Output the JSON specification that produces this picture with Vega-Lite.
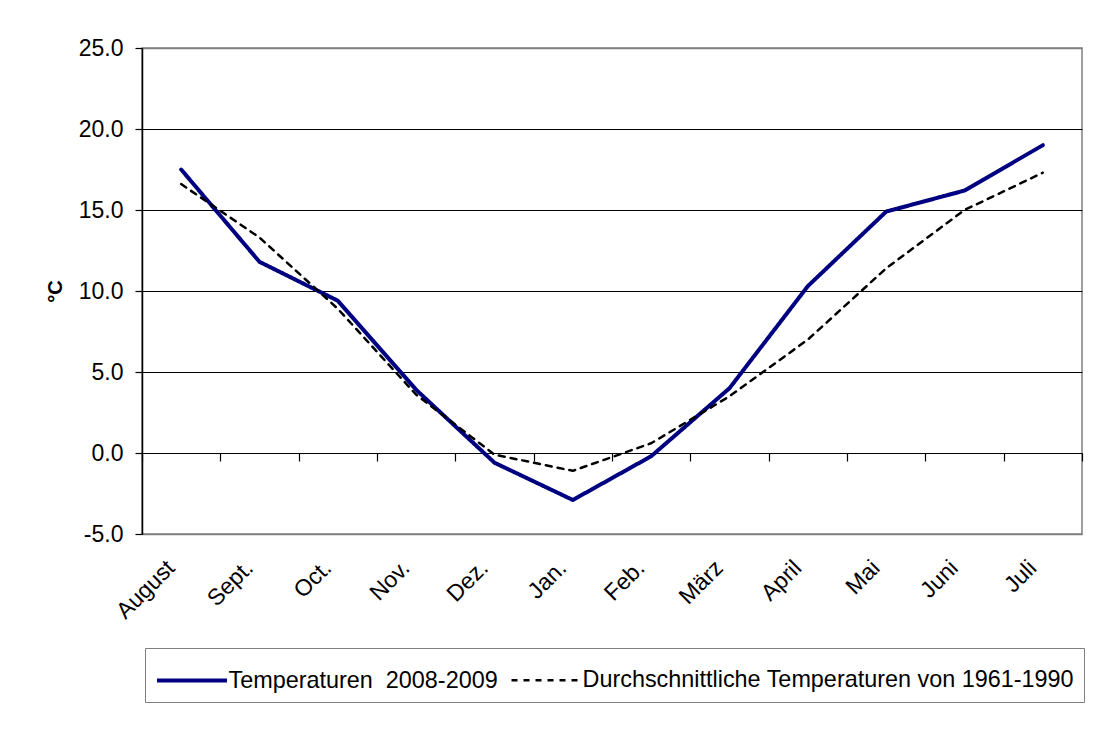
{
  "$schema": "https://vega.github.io/schema/vega-lite/v6.json",
  "width": 940,
  "height": 486,
  "autosize": {"type": "none"},
  "padding": {"left": 142, "top": 48, "right": 21, "bottom": 196},
  "background": "white",
  "config": {
    "font": "Liberation Sans",
    "view": {"stroke": "#808080", "strokeWidth": 1.5},
    "axis": {"labelFont": "Liberation Sans", "labelFontSize": 23, "labelColor": "black", "titleFont": "Liberation Sans"}
  },
  "data": {
    "values": [
      {"month": "August", "series": "Temperaturen\u00a0 2008-2009", "temp": 17.5},
      {"month": "Sept.", "series": "Temperaturen\u00a0 2008-2009", "temp": 11.8},
      {"month": "Oct.", "series": "Temperaturen\u00a0 2008-2009", "temp": 9.4},
      {"month": "Nov.", "series": "Temperaturen\u00a0 2008-2009", "temp": 3.9},
      {"month": "Dez.", "series": "Temperaturen\u00a0 2008-2009", "temp": -0.6},
      {"month": "Jan.", "series": "Temperaturen\u00a0 2008-2009", "temp": -2.9},
      {"month": "Feb.", "series": "Temperaturen\u00a0 2008-2009", "temp": -0.2},
      {"month": "März", "series": "Temperaturen\u00a0 2008-2009", "temp": 4.0},
      {"month": "April", "series": "Temperaturen\u00a0 2008-2009", "temp": 10.3},
      {"month": "Mai", "series": "Temperaturen\u00a0 2008-2009", "temp": 14.9},
      {"month": "Juni", "series": "Temperaturen\u00a0 2008-2009", "temp": 16.2},
      {"month": "Juli", "series": "Temperaturen\u00a0 2008-2009", "temp": 19.0},
      {"month": "August", "series": "Durchschnittliche Temperaturen von 1961-1990", "temp": 16.6},
      {"month": "Sept.", "series": "Durchschnittliche Temperaturen von 1961-1990", "temp": 13.3},
      {"month": "Oct.", "series": "Durchschnittliche Temperaturen von 1961-1990", "temp": 8.9},
      {"month": "Nov.", "series": "Durchschnittliche Temperaturen von 1961-1990", "temp": 3.6},
      {"month": "Dez.", "series": "Durchschnittliche Temperaturen von 1961-1990", "temp": -0.1},
      {"month": "Jan.", "series": "Durchschnittliche Temperaturen von 1961-1990", "temp": -1.1},
      {"month": "Feb.", "series": "Durchschnittliche Temperaturen von 1961-1990", "temp": 0.6},
      {"month": "März", "series": "Durchschnittliche Temperaturen von 1961-1990", "temp": 3.5},
      {"month": "April", "series": "Durchschnittliche Temperaturen von 1961-1990", "temp": 7.0},
      {"month": "Mai", "series": "Durchschnittliche Temperaturen von 1961-1990", "temp": 11.4},
      {"month": "Juni", "series": "Durchschnittliche Temperaturen von 1961-1990", "temp": 15.0},
      {"month": "Juli", "series": "Durchschnittliche Temperaturen von 1961-1990", "temp": 17.3}
    ]
  },
  "layer": [
    {
      "mark": {"type": "line", "strokeCap": "round", "strokeJoin": "round"},
      "encoding": {
        "x": {
          "field": "month", "type": "ordinal",
          "sort": ["August", "Sept.", "Oct.", "Nov.", "Dez.", "Jan.", "Feb.", "März", "April", "Mai", "Juni", "Juli"],
          "scale": {"type": "band", "paddingInner": 0, "paddingOuter": 0},
          "axis": {"title": null, "orient": "bottom", "labelAngle": -45, "labelAlign": "right", "labelBaseline": "middle", "labelFontSize": 23, "domain": false, "ticks": false, "labelPadding": 30, "labelOffset": -10}
        },
        "y": {
          "field": "temp", "type": "quantitative",
          "scale": {"domain": [-5, 25], "nice": false, "zero": false},
          "axis": {
            "title": "°C", "titleFontSize": 20, "titleFontWeight": "bold", "titleColor": "black", "titlePadding": 13,
            "values": [-5, 0, 5, 10, 15, 20, 25], "labelExpr": "replace(format(datum.value, '.1f'), '\u2212', '-')", "labelFontSize": 23,
            "domainColor": "black", "domainWidth": 1.5,
            "tickColor": "black", "tickSize": 7, "tickWidth": 1.2, "labelPadding": 12,
            "gridColor": {"condition": {"test": "datum.value === 25 || datum.value === -5", "value": "#808080"}, "value": "black"},
            "gridWidth": {"condition": {"test": "datum.value === 25 || datum.value === -5", "value": 1.5}, "value": 1},
            "gridOpacity": 1
          }
        },
        "color": {
          "field": "series", "type": "nominal",
          "scale": {"domain": ["Temperaturen\u00a0 2008-2009", "Durchschnittliche Temperaturen von 1961-1990"], "range": ["#000080", "#000000"]},
          "legend": {
            "title": null, "orient": "none", "legendX": 3, "legendY": 600, "direction": "horizontal",
            "symbolType": "M-1.707,0L1.707,0", "symbolSize": 1681, "symbolOffset": 14.5, "labelFontSize": 23.4, "labelColor": "black", "labelFont": "Liberation Sans", "labelLimit": 1000,
            "strokeColor": "#808080", "fillColor": "white", "padding": 10, "columnPadding": 8, "labelOffset": 14, "symbolStrokeWidth": 3
          }
        },
        "strokeDash": {
          "field": "series", "type": "nominal",
          "scale": {"domain": ["Temperaturen\u00a0 2008-2009", "Durchschnittliche Temperaturen von 1961-1990"], "range": [[1, 0], [6, 6]]},
          "legend": null
        },
        "strokeWidth": {
          "field": "series", "type": "nominal",
          "scale": {"domain": ["Temperaturen\u00a0 2008-2009", "Durchschnittliche Temperaturen von 1961-1990"], "range": [4, 2.5]},
          "legend": null
        }
      }
    },
    {
      "mark": {"type": "rule", "opacity": 0},
      "encoding": {
        "x": {
          "field": "month", "type": "ordinal",
          "sort": ["August", "Sept.", "Oct.", "Nov.", "Dez.", "Jan.", "Feb.", "März", "April", "Mai", "Juni", "Juli"],
          "axis": {"title": null, "orient": "bottom", "labels": false, "domain": false, "ticks": true, "tickBand": "extent", "tickColor": "black", "tickSize": 8, "tickWidth": 1.2, "offset": -81}
        }
      }
    }
  ],
  "resolve": {"axis": {"x": "independent"}}
}
